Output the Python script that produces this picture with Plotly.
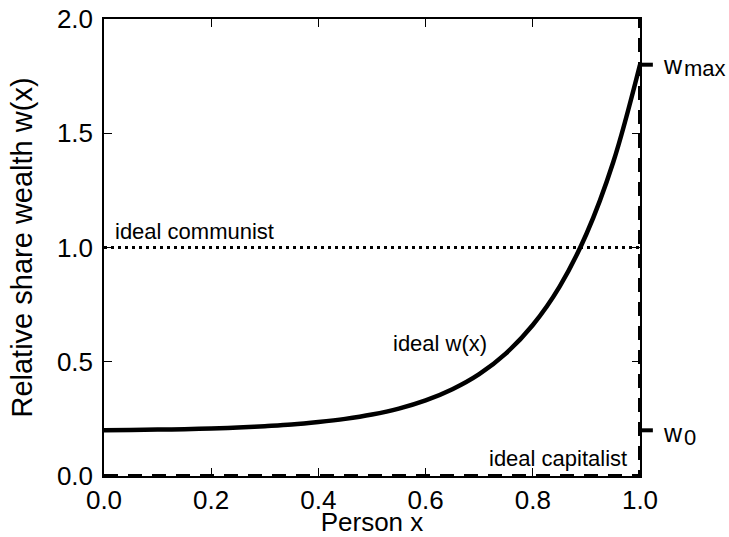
import plotly.graph_objects as go

# Data
person_x = [0.0, 0.05, 0.1, 0.15, 0.2, 0.25, 0.3, 0.35, 0.4, 0.45, 0.5,
            0.55, 0.6, 0.65, 0.7, 0.75, 0.8, 0.85, 0.9, 0.95, 1.0]
ideal_w = [0.200, 0.201, 0.203, 0.205, 0.208, 0.212, 0.218, 0.225, 0.236, 0.250, 0.269,
           0.295, 0.331, 0.380, 0.446, 0.537, 0.661, 0.829, 1.059, 1.373, 1.800]
communist_x = [0.0, 1.0]
communist_w = [1.0, 1.0]
capitalist_x = [0.0, 1.0, 1.0]
capitalist_w = [0.0, 0.0, 2.0]
w0 = 0.2
wmax = 1.8
x_ticks = [0.0, 0.2, 0.4, 0.6, 0.8, 1.0]
y_ticks = [0.0, 0.5, 1.0, 1.5, 2.0]

font = "Liberation Sans, Arial, sans-serif"

fig = go.Figure()
fig.add_trace(go.Scatter(x=capitalist_x, y=capitalist_w, mode="lines",
                         line=dict(color="black", width=4, dash="14px,10px")))
fig.add_trace(go.Scatter(x=communist_x, y=communist_w, mode="lines",
                         line=dict(color="black", width=3, dash="3px,4px")))
fig.add_trace(go.Scatter(x=person_x, y=ideal_w, mode="lines", line_shape="spline",
                         line=dict(color="black", width=4.5)))

for val, sub, dy in [(wmax, "max", 0), (w0, "0", -3)]:
    fig.add_shape(type="line", xref="paper", yref="y", x0=1.0, x1=1.024, y0=val, y1=val,
                  line=dict(color="black", width=4))
    fig.add_annotation(xref="paper", yref="y", x=1.039, y=val, text="w", showarrow=False,
                       xanchor="left", yanchor="middle", yshift=dy,
                       font=dict(size=25, color="black", family=font))
    fig.add_annotation(xref="paper", yref="y", x=1.039, y=val, text=sub, showarrow=False,
                       xanchor="left", yanchor="middle", xshift=21, yshift=dy - 4,
                       font=dict(size=22, color="black", family=font))

fig.add_annotation(x=0.017, y=1.0, text="ideal communist", showarrow=False, xanchor="left",
                   yanchor="bottom", yshift=2, font=dict(size=22, color="black", family=font))
fig.add_annotation(x=0.626, y=0.582, text="ideal w(x)", showarrow=False,
                   font=dict(size=22, color="black", family=font))
fig.add_annotation(x=0.980, y=0.0, text="ideal capitalist", showarrow=False, xanchor="right",
                   yanchor="bottom", yshift=3, font=dict(size=22, color="black", family=font))

axis_common = dict(showgrid=False, zeroline=False, showline=True, linecolor="black", linewidth=1.5,
                   mirror="ticks", ticks="inside", ticklen=8, tickwidth=1, tickcolor="black",
                   automargin=False, tickfont=dict(size=26, color="black", family=font))
fig.update_xaxes(range=[0, 1], tickvals=x_ticks, ticktext=[f"{v:.1f}" for v in x_ticks],
                 ticklabelstandoff=0,
                 title=dict(text="Person x", font=dict(size=26, color="black", family=font), standoff=3),
                 **axis_common)
fig.update_yaxes(range=[0, 2], tickvals=y_ticks, ticktext=[f"{v:.1f}" for v in y_ticks],
                 ticklabelstandoff=4,
                 title=dict(text="Relative share wealth w(x)", font=dict(size=29, color="black", family=font),
                            standoff=16),
                 **axis_common)

fig.update_layout(width=729, height=537, showlegend=False, plot_bgcolor="white", paper_bgcolor="white",
                  margin=dict(l=104, r=89, t=19, b=61), font=dict(family=font, color="black"))

fig.write_html("out.html", config={"displayModeBar": False},
               post_script="document.body.style.margin='0';document.body.style.padding='0';")
